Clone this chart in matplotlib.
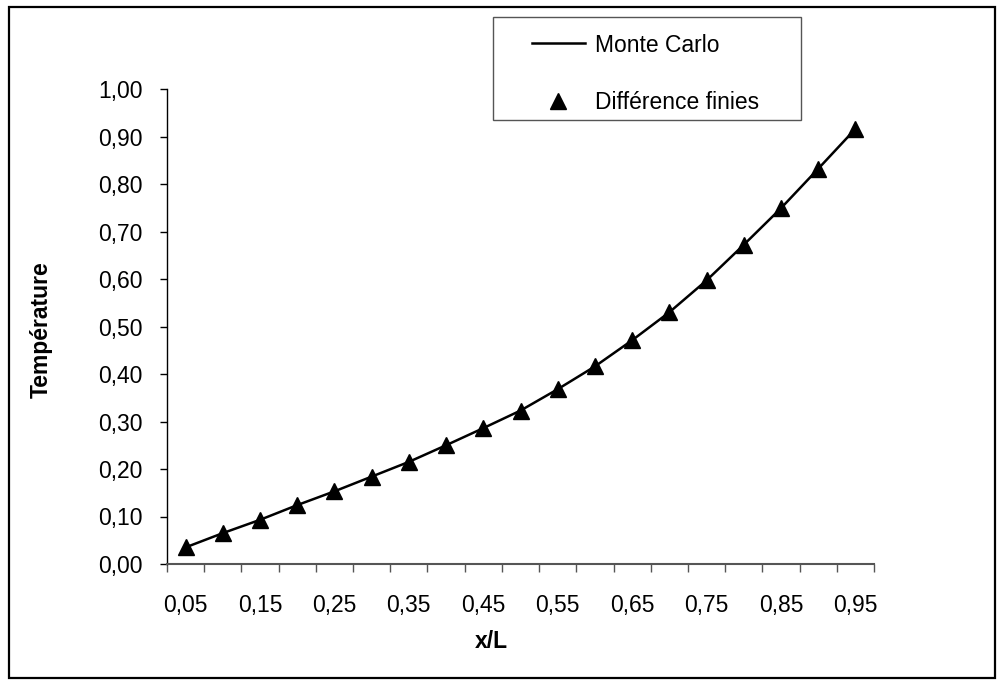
import numpy as np
import matplotlib
matplotlib.use("Agg")
import matplotlib.pyplot as plt
from matplotlib.patches import Rectangle
from matplotlib.lines import Line2D

plt.rcParams['font.family'] = ['Liberation Sans', 'DejaVu Sans']

# positions x/L (une catégorie par point)
x_vals = [0.05, 0.10, 0.15, 0.20, 0.25, 0.30, 0.35, 0.40, 0.45, 0.50,
          0.55, 0.60, 0.65, 0.70, 0.75, 0.80, 0.85, 0.90, 0.95]
monte_carlo = [0.035, 0.065, 0.093, 0.124, 0.153, 0.184, 0.215, 0.250, 0.286, 0.323,
               0.368, 0.416, 0.471, 0.530, 0.597, 0.672, 0.749, 0.832, 0.916]
diff_finies = [0.035, 0.065, 0.093, 0.124, 0.153, 0.184, 0.215, 0.250, 0.286, 0.323,
               0.368, 0.416, 0.471, 0.530, 0.597, 0.672, 0.749, 0.832, 0.916]
y_ticks = [0.0, 0.1, 0.2, 0.3, 0.4, 0.5, 0.6, 0.7, 0.8, 0.9, 1.0]

FS = 16.5
W, H = 998, 680
fig = plt.figure(figsize=(W / 100, H / 100), dpi=100)

def fx(px):
    return px / W

def fy(py):
    return 1 - py / H

# cadre extérieur du graphique
fig.patches.append(Rectangle((fx(9), fy(678)), fx(986), (678 - 7) / H,
                             transform=fig.transFigure, fill=False,
                             edgecolor='black', linewidth=1.6))

ax = fig.add_axes([fx(167), fy(564), fx(874 - 167), (564 - 89) / H])
n = len(x_vals)
pos = np.arange(1, n + 1)

ax.plot(pos, monte_carlo, color='black', linewidth=1.8, label='Monte Carlo')
ax.plot(pos, diff_finies, linestyle='none', marker='^', markersize=12,
        color='black', label='Différence finies')

ax.set_xlim(0.5, n + 0.5)
ax.set_ylim(0, 1.0)

# graduations entre catégories, étiquettes une sur deux
ax.set_xticks(np.arange(0.5, n + 1, 1.0))
ax.set_xticklabels([])
ax.set_xticks(pos[::2], minor=True)
ax.set_xticklabels(['{:.2f}'.format(v).replace('.', ',') for v in x_vals[::2]],
                   minor=True)
ax.tick_params(axis='x', which='major', length=5.5, width=1, color='#555555',
               direction='out')
ax.tick_params(axis='x', which='minor', length=0, pad=21.5, labelsize=FS)

ax.set_yticks(y_ticks)
ax.set_yticklabels(['{:.2f}'.format(v).replace('.', ',') for v in y_ticks])
ax.tick_params(axis='y', length=5, width=1, direction='out', pad=12.3,
               labelsize=FS)

for s in ['top', 'right']:
    ax.spines[s].set_visible(False)
ax.spines['left'].set_linewidth(1)
ax.spines['bottom'].set_color('#555555')
ax.spines['bottom'].set_linewidth(1.5)

fig.text(fx(491), fy(641), 'x/L', fontsize=FS, fontweight='bold',
         ha='center', va='center')
fig.text(fx(41), fy(330), 'Température', rotation=90, fontsize=FS,
         fontweight='bold', ha='center', va='center')

# légende
fig.patches.append(Rectangle((fx(493), fy(120)), fx(801 - 493), (120 - 17) / H,
                             transform=fig.transFigure, fill=False,
                             edgecolor='#555555', linewidth=1))
handles = [Line2D([], [], color='black', linewidth=1.8),
           Line2D([], [], linestyle='none', marker='^', markersize=11,
                  color='black')]
fig.legend(handles, ['Monte Carlo', 'Différence finies'],
           loc='upper left', bbox_to_anchor=(fx(532), fy(33.5)),
           frameon=False, fontsize=FS, borderpad=0, borderaxespad=0,
           handlelength=2.31, handletextpad=0.44, labelspacing=1.5)

fig.savefig('out.png', dpi=100)
